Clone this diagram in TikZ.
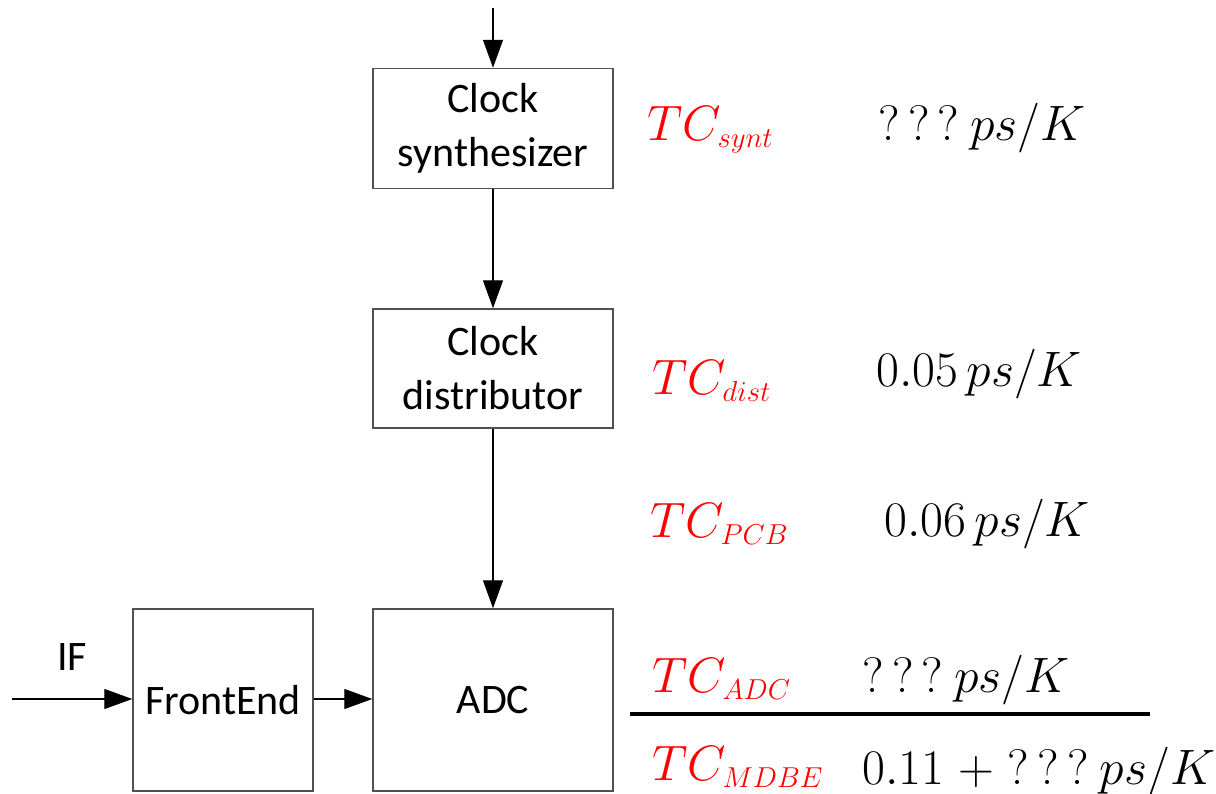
\documentclass[tikz,border=0pt]{standalone}
\usepackage{fontspec}
\setmainfont{Carlito}
\usetikzlibrary{arrows.meta}
\definecolor{tcred}{RGB}{255,0,0}
\definecolor{boxgray}{RGB}{80,80,80}
\newcommand{\qqq}{?\,?\,?}
\newcommand{\tcsub}[1]{$TC_{\hbox{\fontsize{15.5}{18}\selectfont$#1$}}$}
\begin{document}
\begin{tikzpicture}[x=0.5pt,y=-0.5pt,
  blk/.style={draw=boxgray, line width=0.75pt, inner sep=0pt, align=center, font=\fontsize{21}{27}\selectfont},
  conn/.style={line width=0.6pt, -{Triangle[length=14pt,width=10pt]}},
  tc/.style={text=tcred, anchor=base west, inner sep=0pt, font=\fontsize{24}{29}\selectfont},
  val/.style={anchor=base west, inner sep=0pt, font=\fontsize{24}{29}\selectfont}]
\useasboundingbox (0,0) rectangle (1216,793);
\node[blk, minimum width=120pt, minimum height=60pt] (synt) at (493,128.5) {Clock\\synthesizer};
\node[blk, minimum width=120pt, minimum height=59.5pt] (dist) at (493,368.5) {Clock\\distributor};
\node[blk, minimum width=120pt, minimum height=91pt] (adc) at (493,700) {ADC};
\node[blk, minimum width=90pt, minimum height=91pt] (fe) at (223,700) {FrontEnd};
\coordinate (top) at (493,8);
\coordinate (ifin) at (12,699);
\draw[conn] (top) -- (synt.north);
\draw[conn] (synt.south) -- (dist.north);
\draw[conn] (dist.south) -- (adc.north);
\draw[conn] (ifin) -- (ifin -| fe.west);
\draw[conn] (fe.east |- 0,699) -- (adc.west |- 0,699);
\node[font=\fontsize{21}{25}\selectfont, anchor=base, inner sep=0pt] (iflab) at (72,670) {IF};
\node[tc] (t1) at (647,140) {\tcsub{synt}};
\node[val] (v1) at (878,140) {$\qqq\ ps/K$};
\node[tc] (t2) at (652,394) {\tcsub{dist}};
\node[val] (v2) at (876,386) {$0.05\,ps/K$};
\node[tc] (t3) at (650,537) {\tcsub{PCB}};
\node[val] (v3) at (884,536) {$0.06\,ps/K$};
\node[tc] (t4) at (652,692) {\tcsub{ADC}};
\node[val] (v4) at (862,692) {$\qqq\ ps/K$};
\node[tc] (t5) at (652,780) {\tcsub{MDBE}};
\node[val] (v5) at (862,784) {$0.11\;+\;\qqq\ ps/K$};
\coordinate (la) at (630,714);
\coordinate (lb) at (1150,714);
\draw[line width=2pt] (la) -- (lb);
\end{tikzpicture}
\end{document}
